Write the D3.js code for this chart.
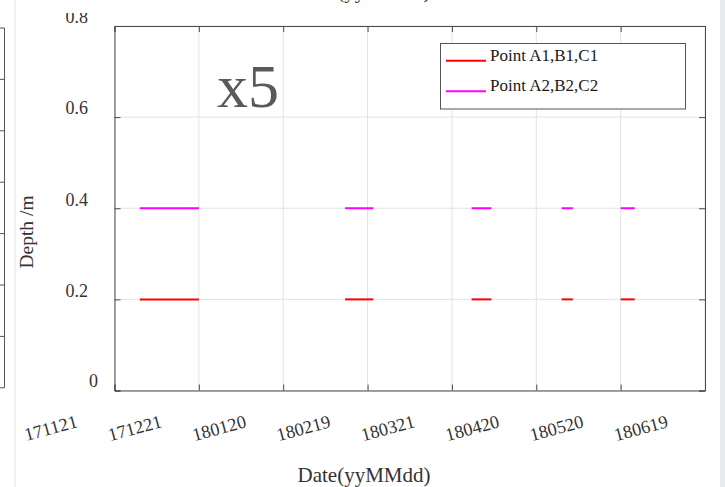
<!DOCTYPE html>
<html>
<head>
<meta charset="utf-8">
<script src="https://cdn.jsdelivr.net/npm/d3@7"></script>
<style>
  body { margin: 0; background: #fff; overflow: hidden; }
  svg { display: block; font-family: "Liberation Serif", "Times New Roman", serif; }
</style>
</head>
<body>
<div class="graph"></div>
<script>
// date ticks every 30 days (yyMMdd)
const xTickLabels = ["171121", "171221", "180120", "180219", "180321", "180420", "180520", "180619"];
const yTicks = [0, 0.2, 0.4, 0.6, 0.8];

// monitoring periods
const startDates = ["171130", "180211", "180328", "180429", "180520"];
const endDates   = ["171221", "180221", "180404", "180503", "180525"];

const seriesNames  = ["Point A1,B1,C1", "Point A2,B2,C2"];
const seriesDepths = [0.2, 0.4];
const seriesColors = ["#ff0000", "#ff00ff"];

const parse = d3.utcParse("%y%m%d");

let width = 725;
let height = 487;
let plotLeft = 114.5, plotRight = 705, plotTop = 26, plotBottom = 390.5;

let svg = d3.select(".graph")
  .append("svg")
  .attr("width", width)
  .attr("height", height);

// page edge bits around the figure
svg.append("rect").attr("x", 720).attr("y", 0).attr("width", 5).attr("height", height).attr("fill", "#e8eaed");
svg.append("line").attr("x1", 15).attr("x2", 15).attr("y1", 0).attr("y2", height)
  .attr("stroke", "#eef0f3").attr("stroke-width", 2);

// piece of neighbouring figure frame on the left
let leftTicks = d3.range(8).map(i => 28 + i * 51.4);
svg.append("line").attr("x1", 4.5).attr("x2", 4.5).attr("y1", 28).attr("y2", leftTicks[7])
  .attr("stroke", "#555");
svg.selectAll(".lt").data(leftTicks).enter().append("line")
  .attr("x1", 0).attr("x2", 4.5).attr("y1", d => d).attr("y2", d => d)
  .attr("stroke", "#555");

// x label of figure above, mostly cut off
svg.append("text").attr("x", 364).attr("y", -2.5).attr("text-anchor", "middle")
  .attr("font-size", 21).attr("fill", "#333").text("Date(yyMMdd)");

let x = d3.scaleUtc()
  .domain([parse(xTickLabels[0]), parse(xTickLabels[xTickLabels.length - 1])])
  .range([plotLeft, plotRight]);
let y = d3.scaleLinear().domain([0, 0.8]).range([plotBottom, plotTop]);

let xTicks = xTickLabels.map(parse);

// grid
svg.append("g").selectAll("line").data(xTicks).enter().append("line")
  .attr("x1", d => x(d)).attr("x2", d => x(d)).attr("y1", plotTop).attr("y2", plotBottom)
  .attr("stroke", "#e3e3e3");
svg.append("g").selectAll("line").data(yTicks).enter().append("line")
  .attr("x1", plotLeft).attr("x2", plotRight).attr("y1", d => y(d)).attr("y2", d => y(d))
  .attr("stroke", "#e3e3e3");

// data segments
seriesDepths.forEach((depth, s) => {
  svg.append("g").selectAll("line").data(startDates).enter().append("line")
    .attr("x1", d => x(parse(d)))
    .attr("x2", (d, i) => x(parse(endDates[i])))
    .attr("y1", y(depth)).attr("y2", y(depth))
    .attr("stroke", seriesColors[s]).attr("stroke-width", 2);
});

// axes with inward ticks
let axisColor = "#4a4a4a";
let bx = svg.append("g").attr("transform", "translate(0," + plotBottom + ")")
  .call(d3.axisBottom(x).tickValues(xTicks).tickSize(-6).tickFormat(""));
let tx = svg.append("g").attr("transform", "translate(0," + plotTop + ")")
  .call(d3.axisTop(x).tickValues(xTicks).tickSize(-6).tickFormat(""));
let ly = svg.append("g").attr("transform", "translate(" + plotLeft + ",0)")
  .call(d3.axisLeft(y).tickValues(yTicks).tickSize(-6).tickFormat(""));
let ry = svg.append("g").attr("transform", "translate(" + plotRight + ",0)")
  .call(d3.axisRight(y).tickValues(yTicks).tickSize(-6).tickFormat(""));
[bx, tx, ly, ry].forEach(g => {
  g.select(".domain").attr("stroke", axisColor);
  g.selectAll(".tick line").attr("stroke", axisColor);
});

// y tick labels (top of 0.8 is cut in the original)
svg.append("clipPath").attr("id", "ycut")
  .append("rect").attr("x", 0).attr("y", 13).attr("width", 110).attr("height", 460);
svg.append("g").attr("clip-path", "url(#ycut)")
  .selectAll("text").data(yTicks).enter().append("text")
  .attr("x", d => d === 0 ? 98 : 88)
  .attr("y", d => y(d) - (d === 0 ? 4 : 2.7))
  .attr("text-anchor", "end")
  .attr("font-size", 18).attr("fill", "#333")
  .text(d => d === 0 ? "0" : d3.format(".1f")(d));

// x tick labels, rotated
svg.append("g").selectAll("text").data(xTickLabels).enter().append("text")
  .attr("transform", d => "translate(" + (x(parse(d)) - 36) + ",427) rotate(-15)")
  .attr("text-anchor", "end")
  .attr("font-size", 18.3).attr("fill", "#333")
  .text(d => d);

// axis titles
svg.append("text").attr("x", 364).attr("y", 482).attr("text-anchor", "middle")
  .attr("font-size", 21).attr("fill", "#333").text("Date(yyMMdd)");
svg.append("text").attr("transform", "translate(33,232) rotate(-90)")
  .attr("text-anchor", "middle").attr("font-size", 19.5).attr("fill", "#333").text("Depth /m");

// big annotation
svg.append("text").attr("x", 217).attr("y", 107)
  .attr("font-size", 62).attr("fill", "#5a5a5a").text("x5");

// legend
let legend = svg.append("g");
legend.append("rect").attr("x", 440.5).attr("y", 43.5).attr("width", 245).attr("height", 65.5)
  .attr("fill", "#fff").attr("stroke", "#555");
let items = legend.selectAll(".item").data(seriesNames).enter().append("g")
  .attr("transform", (d, i) => "translate(0," + (60.7 + i * 30.5) + ")");
items.append("line").attr("x1", 446).attr("x2", 486).attr("y1", 0).attr("y2", 0)
  .attr("stroke", (d, i) => seriesColors[i]).attr("stroke-width", 2);
items.append("text").attr("x", 490).attr("y", 0)
  .attr("font-size", 17).attr("fill", "#1a1a1a").text(d => d);
</script>
</body>
</html>
